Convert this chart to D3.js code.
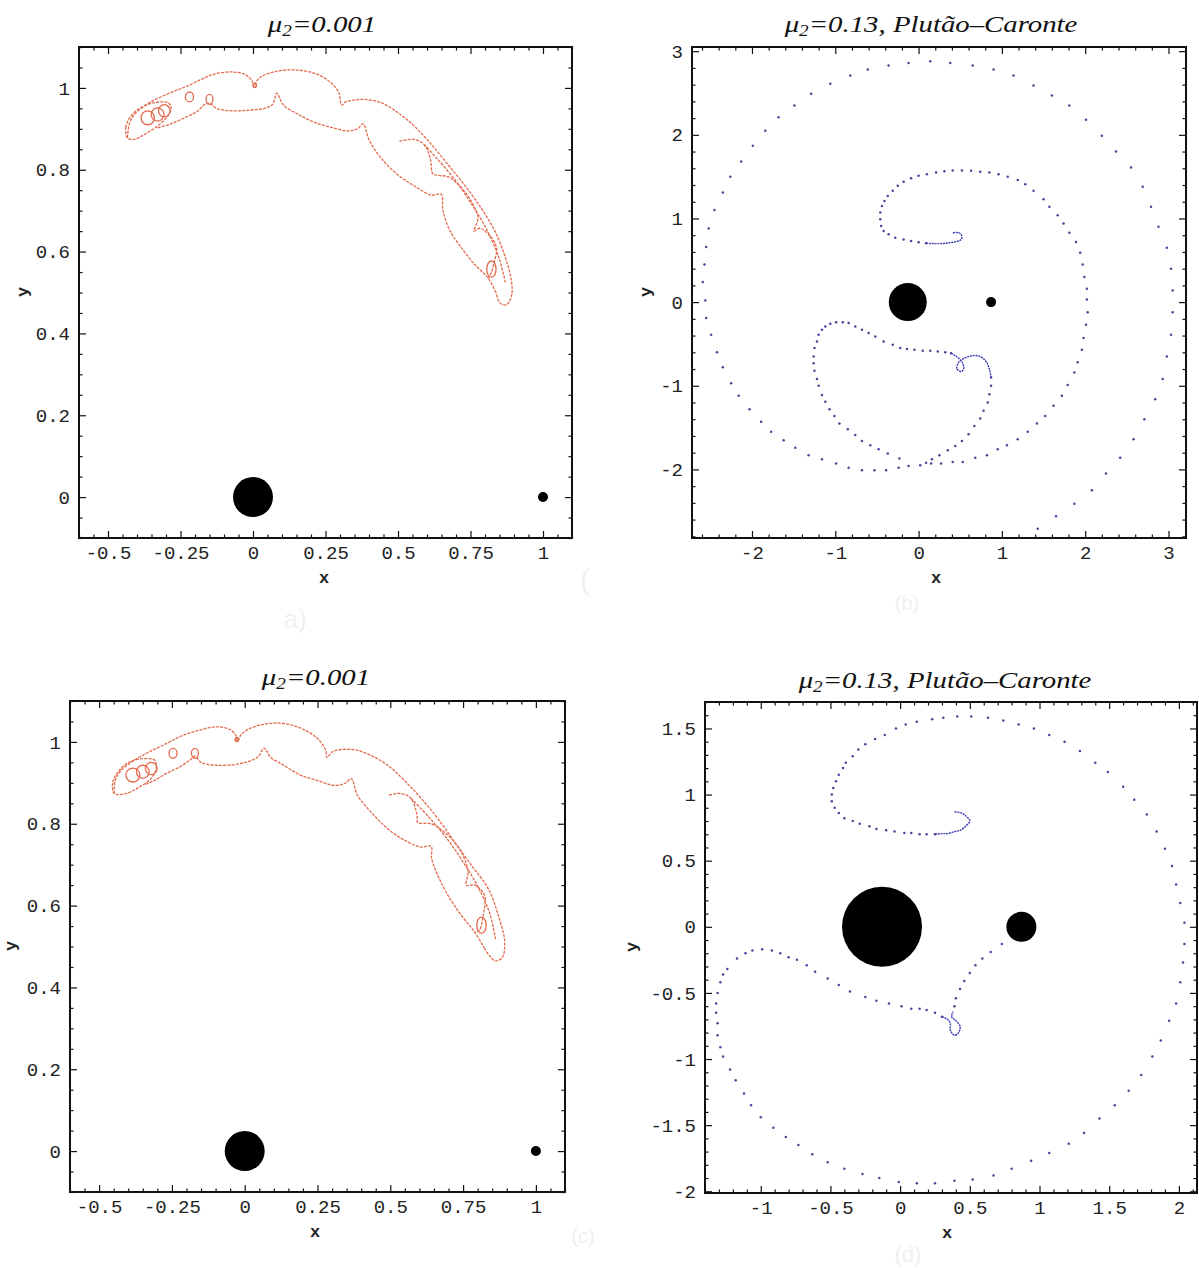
<!DOCTYPE html>
<html>
<head>
<meta charset="utf-8">
<script src="https://cdn.jsdelivr.net/npm/d3@7"></script>
<style>
  body { margin: 0; background: #fff; }
  .tick text { font-family: "Liberation Mono", "DejaVu Sans Mono", monospace; font-size: 19px; fill: #222; }
  .tick line { stroke: #111; stroke-width: 1.2; }
</style>
</head>
<body>
<div id="chart"></div>
<script>
// ---- tick values / labels ----
var xTicksAC = [-0.5, -0.25, 0, 0.25, 0.5, 0.75, 1];
var xLabelsAC = ["-0.5", "-0.25", "0", "0.25", "0.5", "0.75", "1"];
var yTicksAC = [0, 0.2, 0.4, 0.6, 0.8, 1];
var yLabelsAC = ["0", "0.2", "0.4", "0.6", "0.8", "1"];
var xTicksB = [-2, -1, 0, 1, 2, 3];
var xLabelsB = ["-2", "-1", "0", "1", "2", "3"];
var yTicksB = [-2, -1, 0, 1, 2, 3];
var yLabelsB = ["-2", "-1", "0", "1", "2", "3"];
var xTicksD = [-1, -0.5, 0, 0.5, 1, 1.5, 2];
var xLabelsD = ["-1", "-0.5", "0", "0.5", "1", "1.5", "2"];
var yTicksD = [-2, -1.5, -1, -0.5, 0, 0.5, 1, 1.5];
var yLabelsD = ["-2", "-1.5", "-1", "-0.5", "0", "0.5", "1", "1.5"];

// ---- bodies (primary, secondary) ----
var bodiesA = [[0, 0], [1, 0]];
var bodiesB = [[-0.13, 0], [0.87, 0]];
var bodiesC = [[0, 0], [1, 0]];
var bodiesD = [[-0.13, 0], [0.87, 0]];

// ---- panel a : mu2 = 0.001 ----
var redOuterA = [[-0.433,0.878],[-0.425,0.915],[-0.405,0.938],[-0.352,0.966],[-0.282,0.989],[-0.225,1.005],[-0.178,1.021],[-0.132,1.034],[-0.074,1.039],[-0.028,1.033],[-0.004,1.018],[0.004,1.003],[0.012,1.016],[0.030,1.028],[0.076,1.040],[0.146,1.044],[0.215,1.035],[0.265,1.015],[0.295,0.990],[0.306,0.958],[0.320,0.966],[0.345,0.970],[0.383,0.972],[0.441,0.964],[0.499,0.940],[0.557,0.906],[0.615,0.862],[0.672,0.813],[0.730,0.762],[0.788,0.705],[0.834,0.650],[0.868,0.590],[0.890,0.533],[0.892,0.494],[0.874,0.470],[0.852,0.474],[0.838,0.500]];
var redInnerA = [[0.838,0.500],[0.811,0.535],[0.765,0.568],[0.719,0.609],[0.680,0.650],[0.655,0.700],[0.649,0.740],[0.615,0.738],[0.557,0.760],[0.499,0.788],[0.441,0.829],[0.400,0.873],[0.380,0.912],[0.360,0.900],[0.325,0.895],[0.273,0.903],[0.215,0.915],[0.157,0.935],[0.105,0.958],[0.082,0.987],[0.068,0.960],[0.040,0.950],[0.007,0.947],[-0.074,0.944],[-0.125,0.950],[-0.150,0.962],[-0.170,0.958],[-0.190,0.944],[-0.248,0.923],[-0.288,0.911],[-0.330,0.902]];
var redMidA = [[0.505,0.870],[0.557,0.874],[0.592,0.860],[0.612,0.825],[0.620,0.790],[0.640,0.786],[0.672,0.783],[0.719,0.756],[0.753,0.722],[0.776,0.682],[0.762,0.650],[0.783,0.657],[0.823,0.633],[0.840,0.608],[0.832,0.575],[0.820,0.545],[0.811,0.535]];
var redParA = [[0.590,0.862],[0.640,0.823],[0.700,0.772],[0.755,0.715],[0.805,0.655],[0.848,0.585],[0.870,0.525]];
var redLobeA = [[-0.433,0.878],[-0.439,0.903],[-0.421,0.931],[-0.386,0.952],[-0.340,0.964],[-0.294,0.964],[-0.282,0.952],[-0.294,0.931],[-0.329,0.907],[-0.375,0.886],[-0.410,0.874]];
var redLoopsA = [[-0.363,0.927,0.023,0.017],[-0.329,0.935,0.022,0.016],[-0.306,0.944,0.020,0.015],[-0.219,0.978,0.014,0.012],[-0.150,0.972,0.012,0.012],[0.006,1.006,0.006,0.005],[0.822,0.557,0.016,0.020]];

// ---- panel c : mu2 = 0.001 ----
var redOuterC = [[-0.448,0.874],[-0.445,0.905],[-0.425,0.930],[-0.384,0.953],[-0.327,0.976],[-0.269,0.996],[-0.212,1.016],[-0.154,1.029],[-0.096,1.037],[-0.050,1.030],[-0.030,1.015],[-0.025,1.002],[-0.012,1.018],[0.010,1.030],[0.053,1.041],[0.122,1.046],[0.191,1.034],[0.249,1.009],[0.278,0.980],[0.282,0.962],[0.300,0.975],[0.318,0.980],[0.375,0.981],[0.433,0.967],[0.491,0.943],[0.548,0.906],[0.606,0.862],[0.663,0.813],[0.721,0.755],[0.778,0.699],[0.836,0.642],[0.871,0.576],[0.893,0.511],[0.884,0.472],[0.860,0.465],[0.840,0.478],[0.824,0.495]];
var redInnerC = [[0.824,0.495],[0.790,0.535],[0.744,0.576],[0.698,0.625],[0.663,0.674],[0.642,0.715],[0.640,0.745],[0.606,0.743],[0.548,0.760],[0.491,0.788],[0.433,0.829],[0.387,0.870],[0.366,0.910],[0.345,0.899],[0.306,0.894],[0.249,0.906],[0.191,0.919],[0.134,0.943],[0.090,0.962],[0.066,0.985],[0.045,0.963],[-0.016,0.947],[-0.096,0.943],[-0.150,0.950],[-0.170,0.965],[-0.189,0.955],[-0.223,0.939],[-0.269,0.923],[-0.309,0.906],[-0.345,0.895]];
var redMidC = [[0.496,0.870],[0.537,0.874],[0.571,0.862],[0.592,0.821],[0.594,0.803],[0.640,0.800],[0.698,0.772],[0.744,0.731],[0.767,0.682],[0.761,0.650],[0.790,0.650],[0.824,0.625],[0.820,0.580],[0.806,0.540],[0.790,0.535]];
var redParC = [[0.571,0.862],[0.630,0.818],[0.690,0.768],[0.745,0.712],[0.798,0.650],[0.842,0.580],[0.862,0.515]];
var redLobeC = [[-0.448,0.874],[-0.453,0.902],[-0.430,0.931],[-0.396,0.951],[-0.350,0.959],[-0.309,0.955],[-0.304,0.935],[-0.321,0.911],[-0.361,0.890],[-0.407,0.874]];
var redLoopsC = [[-0.384,0.919,0.024,0.017],[-0.350,0.927,0.022,0.016],[-0.321,0.935,0.020,0.015],[-0.246,0.972,0.014,0.012],[-0.171,0.972,0.012,0.012],[-0.027,1.006,0.006,0.005],[0.813,0.552,0.016,0.020]];

// ---- panel b : mu2 = 0.13 ----
var outerDotsB = [[1.43,-2.71],[1.65,-2.56],[1.87,-2.41],[2.08,-2.25],[2.25,-2.05],[2.42,-1.86],[2.58,-1.64],[2.71,-1.40],[2.84,-1.16],[2.93,-0.92],[2.98,-0.65],[3.03,-0.39],[3.05,-0.12],[3.05,0.14],[3.03,0.40],[2.98,0.65],[2.88,0.90],[2.79,1.14],[2.69,1.38],[2.55,1.61],[2.37,1.80],[2.20,1.99],[2.01,2.18],[1.81,2.35],[1.60,2.47],[1.38,2.59],[1.14,2.71],[0.90,2.78],[0.65,2.83],[0.38,2.86],[0.14,2.88],[-0.12,2.86],[-0.36,2.83],[-0.61,2.78],[-0.82,2.71],[-1.06,2.61],[-1.29,2.49],[-1.49,2.35],[-1.68,2.21],[-1.84,2.05],[-1.99,1.87],[-2.13,1.68],[-2.26,1.50],[-2.35,1.31],[-2.45,1.10],[-2.52,0.88],[-2.55,0.66],[-2.57,0.45],[-2.59,0.24],[-2.56,0.02],[-2.55,-0.19],[-2.49,-0.39],[-2.42,-0.60],[-2.35,-0.78],[-2.25,-0.97],[-2.16,-1.12],[-2.03,-1.28],[-1.89,-1.43],[-1.77,-1.55],[-1.62,-1.65],[-1.48,-1.74],[-1.32,-1.83],[-1.16,-1.88],[-0.99,-1.93],[-0.84,-1.98],[-0.68,-2.01],[-0.53,-2.01],[-0.39,-2.01],[-0.24,-1.98],[-0.12,-1.96]];
var innerDotsB = [[0.02,-1.95],[0.15,-1.93],[0.27,-1.93],[0.41,-1.91],[0.53,-1.91],[0.68,-1.86],[0.82,-1.83],[0.95,-1.76],[1.06,-1.71],[1.19,-1.64],[1.31,-1.55],[1.42,-1.45],[1.52,-1.36],[1.62,-1.24],[1.72,-1.12],[1.79,-0.99],[1.87,-0.84],[1.91,-0.72],[1.96,-0.57],[1.98,-0.43],[2.01,-0.27],[2.03,-0.12],[2.02,0.03],[2.02,0.16],[1.99,0.30],[1.97,0.45],[1.94,0.59],[1.89,0.72],[1.81,0.83],[1.74,0.94],[1.67,1.04],[1.57,1.14],[1.50,1.23],[1.38,1.33],[1.28,1.41],[1.19,1.46],[1.07,1.50],[0.96,1.53],[0.85,1.55],[0.74,1.56],[0.63,1.57],[0.52,1.575],[0.41,1.575],[0.31,1.565],[0.21,1.55],[0.10,1.53],[0.0,1.51],[-0.09,1.48],[-0.18,1.44],[-0.25,1.39],[-0.31,1.33],[-0.37,1.27],[-0.41,1.21],[-0.44,1.15],[-0.46,1.07],[-0.46,0.99],[-0.45,0.91],[-0.42,0.85],[-0.36,0.81],[-0.28,0.77],[-0.18,0.75],[-0.09,0.73],[0.0,0.715],[0.09,0.705]];
var hookB = [[0.09,0.705],[0.18,0.70],[0.28,0.70],[0.37,0.71],[0.44,0.72],[0.50,0.74],[0.52,0.77],[0.51,0.81],[0.48,0.83],[0.41,0.83]];
var heartDotsB = [[-0.23,-1.87],[-0.37,-1.81],[-0.48,-1.76],[-0.58,-1.71],[-0.68,-1.66],[-0.76,-1.59],[-0.85,-1.52],[-0.95,-1.45],[-1.01,-1.36],[-1.07,-1.28],[-1.12,-1.19],[-1.16,-1.11],[-1.20,-1.00],[-1.22,-0.92],[-1.25,-0.82],[-1.26,-0.73],[-1.26,-0.65],[-1.25,-0.55],[-1.22,-0.47],[-1.20,-0.39],[-1.16,-0.33],[-1.12,-0.29],[-1.06,-0.26],[-0.99,-0.24],[-0.91,-0.24],[-0.84,-0.25],[-0.76,-0.29],[-0.68,-0.33],[-0.60,-0.37],[-0.52,-0.41],[-0.42,-0.47],[-0.31,-0.51],[-0.22,-0.55],[-0.14,-0.56],[-0.05,-0.57],[0.05,-0.58],[0.14,-0.58],[0.23,-0.59],[0.32,-0.60],[0.39,-0.61],[0.87,-0.90],[0.87,-1.00],[0.85,-1.10],[0.83,-1.20],[0.78,-1.30],[0.74,-1.39],[0.67,-1.48],[0.60,-1.58],[0.52,-1.66],[0.44,-1.72],[0.35,-1.77],[0.25,-1.83],[0.16,-1.88],[0.09,-1.92]];
var loopB = [[0.39,-0.61],[0.44,-0.64],[0.48,-0.67],[0.53,-0.73],[0.54,-0.80],[0.51,-0.83],[0.46,-0.80],[0.48,-0.72],[0.55,-0.67],[0.65,-0.64],[0.74,-0.65],[0.81,-0.71],[0.85,-0.80],[0.87,-0.90]];

// ---- panel d : mu2 = 0.13 ----
var upperDotsD = [[2.04,-0.13],[2.04,0.03],[2.01,0.18],[1.98,0.32],[1.95,0.46],[1.90,0.59],[1.84,0.72],[1.77,0.85],[1.68,0.96],[1.60,1.06],[1.49,1.17],[1.40,1.24],[1.29,1.33],[1.18,1.40],[1.07,1.45],[0.96,1.50],[0.85,1.53],[0.74,1.56],[0.63,1.58],[0.51,1.59],[0.41,1.59],[0.31,1.58],[0.23,1.57],[0.12,1.55],[0.04,1.53],[-0.03,1.50],[-0.11,1.45],[-0.18,1.42],[-0.25,1.38],[-0.30,1.34],[-0.34,1.29],[-0.39,1.24],[-0.41,1.20],[-0.44,1.15],[-0.46,1.10],[-0.48,1.05],[-0.49,1.00],[-0.49,0.95],[-0.47,0.90],[-0.44,0.86],[-0.40,0.82],[-0.34,0.80],[-0.29,0.78],[-0.22,0.76],[-0.17,0.74],[-0.10,0.73],[-0.04,0.72],[0.03,0.71],[0.08,0.71],[0.14,0.70],[0.19,0.70],[0.25,0.70]];
var hookD = [[0.25,0.70],[0.30,0.705],[0.34,0.705],[0.39,0.72],[0.43,0.73],[0.47,0.76],[0.50,0.80],[0.48,0.83],[0.44,0.86],[0.39,0.87]];
var lowerDotsD = [[0.30,-0.68],[0.25,-0.65],[0.19,-0.63],[0.14,-0.62],[0.08,-0.62],[0.01,-0.60],[-0.08,-0.58],[-0.17,-0.56],[-0.25,-0.53],[-0.36,-0.49],[-0.44,-0.44],[-0.52,-0.39],[-0.61,-0.34],[-0.67,-0.29],[-0.74,-0.25],[-0.80,-0.23],[-0.86,-0.20],[-0.92,-0.18],[-0.99,-0.17],[-1.06,-0.18],[-1.11,-0.20],[-1.17,-0.24],[-1.24,-0.32],[-1.27,-0.36],[-1.29,-0.42],[-1.31,-0.50],[-1.32,-0.58],[-1.32,-0.65],[-1.31,-0.73],[-1.31,-0.82],[-1.29,-0.91],[-1.27,-0.98],[-1.22,-1.08],[-1.18,-1.16],[-1.12,-1.26],[-1.07,-1.35],[-1.00,-1.44],[-0.91,-1.52],[-0.82,-1.59],[-0.73,-1.65],[-0.63,-1.72],[-0.52,-1.78],[-0.40,-1.83],[-0.27,-1.87],[-0.15,-1.90],[-0.01,-1.93],[0.12,-1.94],[0.25,-1.94],[0.39,-1.92],[0.52,-1.91],[0.67,-1.88],[0.80,-1.83],[0.94,-1.77],[1.07,-1.71],[1.21,-1.64],[1.32,-1.56],[1.43,-1.45],[1.54,-1.35],[1.64,-1.24],[1.73,-1.12],[1.81,-0.98],[1.87,-0.86],[1.93,-0.71],[1.98,-0.58],[2.01,-0.42],[2.03,-0.27],[0.39,-0.60],[0.40,-0.54],[0.43,-0.47],[0.46,-0.41],[0.50,-0.35],[0.54,-0.29],[0.59,-0.24],[0.65,-0.19],[0.73,-0.13]];
var loopD = [[0.30,-0.68],[0.34,-0.70],[0.36,-0.73],[0.36,-0.78],[0.39,-0.82],[0.42,-0.80],[0.43,-0.75],[0.40,-0.71],[0.37,-0.68],[0.38,-0.64]];

var W = 1199, H = 1268;
var RED = "#e36a4e", BLUE_DOT = "#45459c", BLUE_LINE = "#3b3bb4";

var svg = d3.select("#chart").append("svg")
    .attr("width", W)
    .attr("height", H)
    .style("display", "block");

var panels = [
    { id: "a", box: [79, 572, 47, 538], xDomain: [-0.6, 1.1], yDomain: [-0.1, 1.1],
      xTicks: xTicksAC, xLabels: xLabelsAC, yTicks: yTicksAC, yLabels: yLabelsAC, xMinor: 0.05, yMinor: 0.05,
      title: ["0.001"], titleX: 322, titleY: 32, xLab: [324, 578], yLab: [23, 292],
      bodies: bodiesA, radii: [20, 5],
      red: [redOuterA, redInnerA, redMidA, redParA], lobe: redLobeA, loops: redLoopsA },
    { id: "b", box: [692, 1186, 47, 538], xDomain: [-2.72, 3.21], yDomain: [-2.82, 3.05],
      xTicks: xTicksB, xLabels: xLabelsB, yTicks: yTicksB, yLabels: yLabelsB, xMinor: 0.2, yMinor: 0.2,
      title: ["0.13, Plutão\u2013Caronte"], titleX: 931, titleY: 32, xLab: [936, 578], yLab: [646, 292],
      bodies: bodiesB, radii: [19, 5],
      dots: [outerDotsB, innerDotsB, heartDotsB], lines: [hookB, loopB] },
    { id: "c", box: [70, 565, 701, 1192], xDomain: [-0.6, 1.1], yDomain: [-0.1, 1.1],
      xTicks: xTicksAC, xLabels: xLabelsAC, yTicks: yTicksAC, yLabels: yLabelsAC, xMinor: 0.05, yMinor: 0.05,
      title: ["0.001"], titleX: 316, titleY: 685, xLab: [315, 1232], yLab: [11, 946],
      bodies: bodiesC, radii: [20, 5],
      red: [redOuterC, redInnerC, redMidC, redParC], lobe: redLobeC, loops: redLoopsC },
    { id: "d", box: [705, 1197, 702, 1193], xDomain: [-1.4, 2.13], yDomain: [-2.013, 1.70],
      xTicks: xTicksD, xLabels: xLabelsD, yTicks: yTicksD, yLabels: yLabelsD, xMinor: 0.1, yMinor: 0.1,
      title: ["0.13, Plutão\u2013Caronte"], titleX: 945, titleY: 688, xLab: [947, 1233], yLab: [632, 947],
      bodies: bodiesD, radii: [40, 15],
      dots: [upperDotsD, lowerDotsD], lines: [hookD, loopD] }
];

function minorTicks(domain, step, majors) {
    return d3.range(Math.ceil(domain[0] / step - 1e-6), Math.floor(domain[1] / step + 1e-6) + 1)
        .map(function(k) { return +(k * step).toFixed(4); })
        .filter(function(v) { return !majors.some(function(m) { return Math.abs(m - v) < 1e-6; }); });
}

function drawPanel(p) {
    var left = p.box[0], right = p.box[1], top = p.box[2], bottom = p.box[3];
    var x = d3.scaleLinear().domain(p.xDomain).range([left, right]);
    var y = d3.scaleLinear().domain(p.yDomain).range([bottom, top]);
    var g = svg.append("g").attr("class", "panel-" + p.id);

    g.append("clipPath").attr("id", "clip-" + p.id)
        .append("rect")
        .attr("x", left).attr("y", top)
        .attr("width", right - left).attr("height", bottom - top);

    var xMin = minorTicks(p.xDomain, p.xMinor, p.xTicks);
    var yMin = minorTicks(p.yDomain, p.yMinor, p.yTicks);

    // major ticks with labels (bottom / left), plain on top / right
    g.append("g").attr("transform", "translate(0," + bottom + ")")
        .call(d3.axisBottom(x).tickValues(p.xTicks).tickSizeInner(-7).tickSizeOuter(0).tickPadding(8)
            .tickFormat(function(d, i) { return p.xLabels[i]; }));
    g.append("g").attr("transform", "translate(" + left + ",0)")
        .call(d3.axisLeft(y).tickValues(p.yTicks).tickSizeInner(-7).tickSizeOuter(0).tickPadding(9)
            .tickFormat(function(d, i) { return p.yLabels[i]; }));
    g.append("g").attr("transform", "translate(0," + top + ")")
        .call(d3.axisTop(x).tickValues(p.xTicks).tickSizeInner(-7).tickSizeOuter(0).tickFormat(""));
    g.append("g").attr("transform", "translate(" + right + ",0)")
        .call(d3.axisRight(y).tickValues(p.yTicks).tickSizeInner(-7).tickSizeOuter(0).tickFormat(""));

    // minor ticks
    g.append("g").attr("transform", "translate(0," + bottom + ")")
        .call(d3.axisBottom(x).tickValues(xMin).tickSizeInner(-3.5).tickSizeOuter(0).tickFormat(""));
    g.append("g").attr("transform", "translate(0," + top + ")")
        .call(d3.axisTop(x).tickValues(xMin).tickSizeInner(-3.5).tickSizeOuter(0).tickFormat(""));
    g.append("g").attr("transform", "translate(" + left + ",0)")
        .call(d3.axisLeft(y).tickValues(yMin).tickSizeInner(-3.5).tickSizeOuter(0).tickFormat(""));
    g.append("g").attr("transform", "translate(" + right + ",0)")
        .call(d3.axisRight(y).tickValues(yMin).tickSizeInner(-3.5).tickSizeOuter(0).tickFormat(""));

    g.selectAll(".domain").remove();

    // frame
    g.append("rect")
        .attr("x", left).attr("y", top)
        .attr("width", right - left).attr("height", bottom - top)
        .attr("fill", "none")
        .attr("stroke", "#111")
        .attr("stroke-width", 2);

    var marks = g.append("g").attr("clip-path", "url(#clip-" + p.id + ")");

    var line = d3.line()
        .x(function(d) { return x(d[0]); })
        .y(function(d) { return y(d[1]); })
        .curve(d3.curveCatmullRom.alpha(0.5));

    if (p.red) {
        marks.selectAll("path.red")
            .data(p.red)
            .enter().append("path")
            .attr("class", "red")
            .attr("d", line)
            .attr("fill", "none")
            .attr("stroke", RED)
            .attr("stroke-width", 1.3)
            .attr("stroke-dasharray", "3,1.2");

        marks.append("path")
            .attr("d", d3.line()
                .x(function(d) { return x(d[0]); })
                .y(function(d) { return y(d[1]); })
                .curve(d3.curveCatmullRomClosed.alpha(0.5))(p.lobe))
            .attr("fill", "none")
            .attr("stroke", RED)
            .attr("stroke-width", 1.3)
            .attr("stroke-dasharray", "3,1.2");

        marks.selectAll("ellipse.loop")
            .data(p.loops)
            .enter().append("ellipse")
            .attr("class", "loop")
            .attr("cx", function(d) { return x(d[0]); })
            .attr("cy", function(d) { return y(d[1]); })
            .attr("rx", function(d) { return x(d[0] + d[2]) - x(d[0]); })
            .attr("ry", function(d) { return y(d[1]) - y(d[1] + d[3]); })
            .attr("fill", "none")
            .attr("stroke", RED)
            .attr("stroke-width", 1.3);
    }

    if (p.dots) {
        marks.selectAll("g.dots")
            .data(p.dots)
            .enter().append("g")
            .attr("class", "dots")
            .selectAll("circle")
            .data(function(d) { return d; })
            .enter().append("circle")
            .attr("cx", function(d) { return x(d[0]); })
            .attr("cy", function(d) { return y(d[1]); })
            .attr("r", 1.25)
            .attr("fill", BLUE_DOT);

        marks.selectAll("path.blue")
            .data(p.lines)
            .enter().append("path")
            .attr("class", "blue")
            .attr("d", line)
            .attr("fill", "none")
            .attr("stroke", BLUE_LINE)
            .attr("stroke-width", 1.4)
            .attr("stroke-dasharray", "2,0.8");
    }

    // primaries
    marks.selectAll("circle.body")
        .data(p.bodies)
        .enter().append("circle")
        .attr("class", "body")
        .attr("cx", function(d) { return x(d[0]); })
        .attr("cy", function(d) { return y(d[1]); })
        .attr("r", function(d, i) { return p.radii[i]; })
        .attr("fill", "#000");

    // title  mu_2 = ...
    var t = g.append("text")
        .attr("transform", "translate(" + p.titleX + "," + p.titleY + ") scale(1.2,1)")
        .attr("text-anchor", "middle")
        .style("font-family", "'Liberation Serif', 'DejaVu Serif', serif")
        .style("font-style", "italic")
        .style("font-size", "24px")
        .attr("fill", "#111");
    t.append("tspan").text("\u03bc");
    t.append("tspan").attr("dy", 4).style("font-size", "16px").text("2");
    t.append("tspan").attr("dy", -4).text("=" + p.title[0]);

    // axis labels
    g.append("text")
        .attr("x", p.xLab[0]).attr("y", p.xLab[1])
        .attr("text-anchor", "middle")
        .attr("dominant-baseline", "central")
        .style("font-family", "'Liberation Mono', monospace")
        .style("font-weight", "bold")
        .style("font-size", "17px")
        .attr("fill", "#222")
        .text("x");
    g.append("text")
        .attr("transform", "translate(" + p.yLab[0] + "," + p.yLab[1] + ") rotate(-90)")
        .attr("text-anchor", "middle")
        .attr("dominant-baseline", "central")
        .style("font-family", "'Liberation Mono', monospace")
        .style("font-weight", "bold")
        .style("font-size", "17px")
        .attr("fill", "#222")
        .text("y");
}

panels.forEach(drawPanel);

// faint sub-figure captions
var captions = [["a)", 295, 628, 26], ["(", 585, 590, 30], ["(b)", 907, 610, 20], ["(c)", 583, 1243, 20], ["(d)", 908, 1262, 22]];
svg.selectAll("text.caption")
    .data(captions)
    .enter().append("text")
    .attr("class", "caption")
    .attr("x", function(d) { return d[1]; })
    .attr("y", function(d) { return d[2]; })
    .attr("text-anchor", "middle")
    .style("font-family", "'Liberation Sans', sans-serif")
    .style("font-size", function(d) { return d[3] + "px"; })
    .attr("fill", "#f0f0f0")
    .text(function(d) { return d[0]; });
</script>
</body>
</html>
